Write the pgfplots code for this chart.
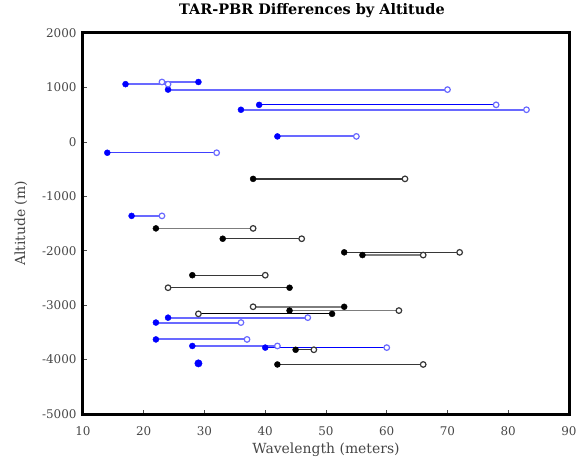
\documentclass[border=0pt]{standalone}
\usepackage{pgfplots}
\pgfplotsset{compat=1.18}
\usepackage{fontspec}
\setmainfont{DejaVu Serif}
\definecolor{lblue}{RGB}{105,105,255}
\definecolor{dgray}{RGB}{55,55,55}
\definecolor{mgray}{RGB}{125,125,125}
\definecolor{txtgray}{RGB}{70,70,70}
\begin{document}
\begin{tikzpicture}
\begin{axis}[
  scale only axis, width=486bp, height=381bp,
  xmin=10, xmax=90, ymin=-5000, ymax=2000,
  xtick={10,20,...,90}, ytick={-5000,-4000,...,2000},
  axis line style={line width=3bp},
  tick style={black!70, line width=0.6pt},
  major tick length=4bp,
  tick align=inside,
  xtick pos=bottom, ytick pos=left,
  /pgf/number format/assume math mode=true,
  /pgf/number format/set thousands separator={},
  tick label style={font=\fontsize{12}{14}\selectfont, color=txtgray},
  xticklabel style={yshift=-9bp},
  yticklabel style={xshift=-3bp},
  xlabel={Wavelength (meters)}, ylabel={Altitude (m)},
  label style={font=\fontsize{14}{16}\selectfont, color=txtgray},
  xlabel style={at={(axis description cs:0.5,0)}, anchor=center, yshift=-36bp},
  ylabel style={at={(axis description cs:0,0.5)}, anchor=center, yshift=62bp, xshift=0bp},
  title={\textbf{TAR-PBR Differences by Altitude}},
  title style={font=\fontsize{14.5}{16}\selectfont, at={(axis description cs:0.471,1)}, anchor=center, yshift=16bp},
  clip=false,
]
% blue segments
\addplot[lblue, line width=2pt] coordinates {(17,1060) (24,1060)};
\addplot[lblue, line width=2pt] coordinates {(23,1100) (29,1100)};
\addplot[lblue, line width=2pt] coordinates {(24,960) (70,960)};
\addplot[blue, line width=1.2pt] coordinates {(39,680) (78,680)};
\addplot[lblue, line width=2pt] coordinates {(36,590) (83,590)};
\addplot[lblue, line width=2pt] coordinates {(42,100) (55,100)};
\addplot[blue!75, line width=1.3pt] coordinates {(14,-200) (32,-200)};
\addplot[lblue, line width=2pt] coordinates {(18,-1360) (23,-1360)};
\addplot[lblue, line width=2pt] coordinates {(24,-3230) (47,-3230)};
\addplot[lblue, line width=2pt] coordinates {(22,-3320) (36,-3320)};
\addplot[lblue, line width=2pt] coordinates {(22,-3630) (37,-3630)};
\addplot[lblue, line width=2pt] coordinates {(28,-3750) (42,-3750)};
\addplot[blue, line width=1.2pt] coordinates {(40,-3780) (60,-3780)};
% black segments
\addplot[dgray, line width=1.3pt] coordinates {(38,-680) (63,-680)};
\addplot[mgray, line width=1.6pt] coordinates {(22,-1590) (38,-1590)};
\addplot[dgray, line width=1.3pt] coordinates {(33,-1780) (46,-1780)};
\addplot[dgray, line width=1.3pt] coordinates {(53,-2030) (72,-2030)};
\addplot[mgray, line width=2.5pt] coordinates {(56,-2080) (66,-2080)};
\addplot[dgray, line width=1.3pt] coordinates {(28,-2450) (40,-2450)};
\addplot[dgray, line width=1.3pt] coordinates {(24,-2680) (44,-2680)};
\addplot[mgray, line width=2.5pt] coordinates {(38,-3030) (53,-3030)};
\addplot[mgray, line width=1.6pt] coordinates {(44,-3100) (62,-3100)};
\addplot[black, line width=1.1pt] coordinates {(29,-3160) (51,-3160)};
\addplot[dgray, line width=1.3pt] coordinates {(45,-3820) (48,-3820)};
\addplot[dgray, line width=1.3pt] coordinates {(42,-4090) (66,-4090)};
% filled blue marks
\addplot[only marks, mark=*, mark size=3bp, blue, mark options={draw=blue, fill=blue}] coordinates {
(17,1060) (29,1100) (24,960) (39,680) (36,590) (42,100) (14,-200) (18,-1360)
(24,-3230) (22,-3320) (22,-3630) (28,-3750) (40,-3780)};
\addplot[only marks, mark=*, mark size=3.7bp, blue, mark options={draw=blue, fill=blue}] coordinates {(29,-4070)};
% open blue marks
\addplot[only marks, mark=*, mark size=2.8bp, mark options={draw=lblue, fill=white, line width=1.2pt}] coordinates {
(24,1060) (23,1100) (70,960) (78,680) (83,590) (55,100) (32,-200) (23,-1360)
(47,-3230) (36,-3320) (37,-3630) (42,-3750) (60,-3780)};
% filled black marks
\addplot[only marks, mark=*, mark size=3bp, mark options={draw=black, fill=black}] coordinates {
(38,-680) (22,-1590) (33,-1780) (53,-2030) (56,-2080) (28,-2450) (44,-2680)
(53,-3030) (44,-3100) (51,-3160) (45,-3820) (42,-4090)};
% open black marks
\addplot[only marks, mark=*, mark size=2.8bp, mark options={draw=dgray, fill=white, line width=1.2pt}] coordinates {
(63,-680) (38,-1590) (46,-1780) (72,-2030) (66,-2080) (40,-2450) (24,-2680)
(38,-3030) (62,-3100) (29,-3160) (48,-3820) (66,-4090)};
\end{axis}
\pgfresetboundingbox
\path (current axis.south west) ++(-83bp,-46bp) rectangle ++(579bp,460bp);
\end{tikzpicture}
\end{document}
